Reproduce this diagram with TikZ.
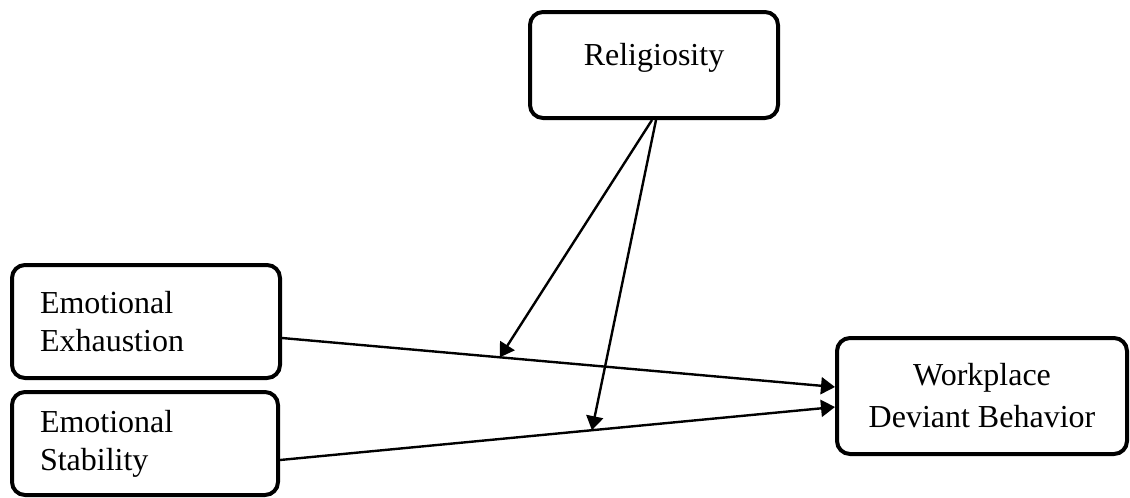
\documentclass[tikz,border=0pt]{standalone}
\usepackage{fontspec}
\setmainfont{Liberation Serif}
\usetikzlibrary{arrows.meta}
\begin{document}
\begin{tikzpicture}[x=0.5pt, y=-0.5pt,
        varbox/.style={draw, line width=2pt, rounded corners=6.5pt, font=\fontsize{16}{19}\selectfont},
        link/.style={line width=1.2pt, -{Triangle[length=7pt,width=8.5pt]}}]
        \useasboundingbox (0,0) rectangle (1130,498);

        \node[varbox, minimum width=124pt, minimum height=53pt, text height=11pt, text depth=11pt] (rel) at (654,65) {Religiosity};
        \node[varbox, text width=106pt, inner xsep=14pt, minimum height=56.5pt, align=left] (exh) at (146,321.5) {Emotional\\Exhaustion};
        \node[varbox, text width=105pt, inner xsep=14pt, minimum height=51.5pt, align=left] (stab) at (145,443.5) {Emotional\\Stability};
        \node[varbox, minimum width=145pt, minimum height=58pt, align=center, font=\fontsize{16}{21}\selectfont] (wdb) at (982,396) {Workplace\\Deviant Behavior};

        \draw[link] ([yshift=-8.25pt]exh.east) -- coordinate[pos=0.394] (m1) ([yshift=4.5pt]wdb.west);
        \draw[link] ([yshift=-8.25pt]stab.east) -- coordinate[pos=0.562] (m2) ([yshift=-5.5pt]wdb.west);

        \draw[link] ([xshift=-1pt]rel.south) -- (m1);
        \draw[link] ([xshift=1pt]rel.south) -- (m2);
    \end{tikzpicture}
\end{document}
